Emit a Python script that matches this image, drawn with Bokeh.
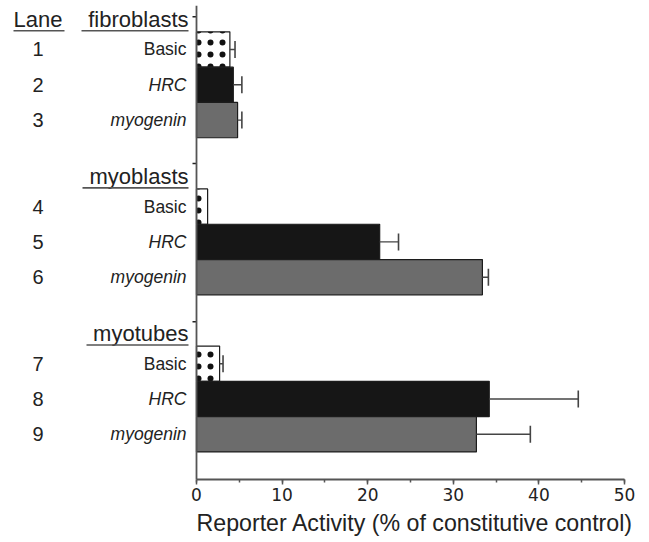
from bokeh.plotting import figure
from bokeh.models import (ColumnDataSource, Whisker, TeeHead,
                          SingleIntervalTicker, Range1d, Span, Title)
from bokeh.core.properties import value
from bokeh.embed import file_html
from bokeh.resources import INLINE

# ---------------- data ----------------
groups = ["fibroblasts", "myoblasts", "myotubes"]
constructs = ["Basic", "HRC", "myogenin"]
lanes = ["1", "2", "3", "4", "5", "6", "7", "8", "9"]
fibroblasts_vals = [3.9, 4.3, 4.8]
fibroblasts_err = [0.6, 1.0, 0.5]
myoblasts_vals = [1.3, 21.4, 33.4]
myoblasts_err = [0.0, 2.2, 0.7]
myotubes_vals = [2.7, 34.2, 32.7]
myotubes_err = [0.4, 10.4, 6.3]
x_ticks_interval = 10
x_max = 50
y_axis_ticks = [-0.93, 3.23, 7.71]
x_label = "Reporter Activity (% of constitutive control)"
lane_header = "Lane"

# ---------------- layout helpers ----------------
GROUP_STEP = 4.45
PX_PER_UNIT = 8.56
ZERO_PX = 196
W, H = 646, 539
Y_TOP, Y_BOTTOM = -1.246, 12.18

vals_all = [fibroblasts_vals, myoblasts_vals, myotubes_vals]
errs_all = [fibroblasts_err, myoblasts_err, myotubes_err]

pos, val, up, name, style, fill, pat, lane = [], [], [], [], [], [], [], []
fills = {"Basic": "white", "HRC": "#161616", "myogenin": "#6c6c6c"}
k = 0
for g, (vs, es) in enumerate(zip(vals_all, errs_all)):
    for i, (c, v, e) in enumerate(zip(constructs, vs, es)):
        pos.append(g * GROUP_STEP + i)
        val.append(v)
        up.append(v + e)
        name.append(c)
        style.append("normal" if c == "Basic" else "italic")
        fill.append(fills[c])
        pat.append("dot" if c == "Basic" else "blank")
        lane.append(lanes[k])
        k += 1

src = ColumnDataSource(dict(pos=pos, val=val, up=up, name=name, style=style,
                            fill=fill, pat=pat, lane=lane))
err_idx = [j for j in range(len(val)) if up[j] > val[j]]
err_src = ColumnDataSource(dict(pos=[pos[j] for j in err_idx],
                                val=[val[j] for j in err_idx],
                                up=[up[j] for j in err_idx]))

x_start = -ZERO_PX / PX_PER_UNIT
x_end = x_start + W / PX_PER_UNIT

p = figure(width=W, height=H, x_range=Range1d(x_start, x_end),
           y_range=Range1d(Y_BOTTOM, Y_TOP), output_backend="svg",
           toolbar_location=None, min_border_left=0, min_border_right=0,
           min_border_top=5, min_border_bottom=0)
p.grid.visible = False
p.outline_line_color = None
p.yaxis.visible = False

# y axis line and its small ticks
p.add_layout(Span(location=0, dimension="height", line_color="#555555",
                  line_width=1.8))
p.segment(x0=-4 / PX_PER_UNIT, x1=0, y0=y_axis_ticks, y1=y_axis_ticks,
          line_color="#222222", line_width=1.5)

# bars
p.hbar(y="pos", left=0, right="val", height=1, source=src, fill_color="fill",
       line_color="#1c1c1c", line_width=1.2, hatch_pattern="pat",
       hatch_color="#111111", hatch_scale=12, hatch_weight=0.8)

# error bars
wh = Whisker(base="pos", lower="val", upper="up", dimension="width",
             source=err_src, line_color="#444444", line_width=1.4,
             upper_head=TeeHead(size=17, line_color="#444444", line_width=1.6),
             lower_head=None, level="glyph")
p.add_layout(wh)

TXT = "#222222"
LANE_X = (37.5 - ZERO_PX) / PX_PER_UNIT
NAME_X = (186 - ZERO_PX) / PX_PER_UNIT
HEAD_X = (188 - ZERO_PX) / PX_PER_UNIT

p.text(x=NAME_X, y="pos", text="name", source=src, text_align="right",
       text_baseline="middle", text_font=value("Liberation Sans"),
       text_font_size="17.5px", text_font_style="style", text_color=TXT)
p.text(x=LANE_X, y="pos", text="lane", source=src, text_align="center",
       text_baseline="middle", text_font=value("Liberation Sans"),
       text_font_size="20px", text_color=TXT)

# group headers
head_y = [g * GROUP_STEP - 0.86 for g in range(len(groups))]
p.text(x=[HEAD_X] * len(groups), y=head_y, text=groups, text_align="right",
       text_baseline="middle", text_font=value("Liberation Sans"),
       text_font_size="22px", text_color=TXT)
p.text(x=[LANE_X], y=[head_y[0]], text=[lane_header], text_align="center",
       text_baseline="middle", text_font=value("Liberation Sans"),
       text_font_size="22px", text_color=TXT)

# underlines
ul_start_px = [81, 82, 86]
ul_y = [g * GROUP_STEP - 0.53 for g in range(len(groups))]
p.segment(x0=[(s - ZERO_PX) / PX_PER_UNIT for s in ul_start_px], x1=HEAD_X,
          y0=ul_y, y1=ul_y, line_color="#555555", line_width=1.6)
p.segment(x0=[(13 - ZERO_PX) / PX_PER_UNIT], x1=[(64 - ZERO_PX) / PX_PER_UNIT],
          y0=[ul_y[0]], y1=[ul_y[0]], line_color="#555555", line_width=1.6)

# x axis
xa = p.xaxis[0]
xa.bounds = (0, x_max)
xa.ticker = SingleIntervalTicker(interval=x_ticks_interval, num_minor_ticks=2)
xa.major_label_text_font = "DejaVu Sans"
xa.major_label_text_font_size = "17px"
xa.major_label_text_color = TXT
xa.major_label_standoff = 3
xa.axis_line_color = "#555555"
xa.axis_line_width = 1.8
xa.major_tick_line_color = "#555555"
xa.major_tick_line_width = 1.5
xa.major_tick_out = 5
xa.major_tick_in = 0
xa.minor_tick_line_color = "#555555"
xa.minor_tick_line_width = 1.5
xa.minor_tick_out = 3
xa.minor_tick_in = 0

# x-axis title, starting at the axis origin
p.add_layout(Title(text=x_label, align="left", offset=ZERO_PX, standoff=8,
                   text_font="Liberation Sans", text_font_size="23.2px",
                   text_font_style="normal", text_color=TXT), "below")

open("out.html", "w").write(file_html(p, INLINE))
